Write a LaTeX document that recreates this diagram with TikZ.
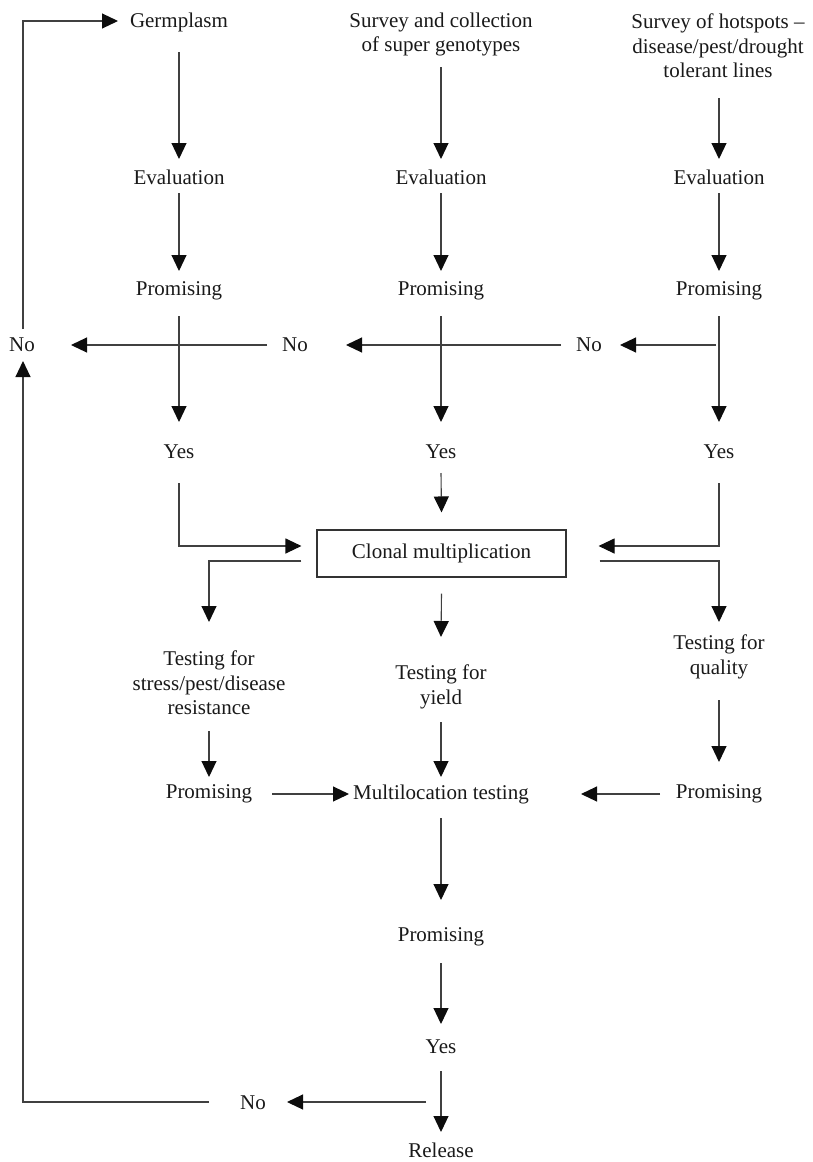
\documentclass[tikz,border=0pt]{standalone}
\usepackage{fontspec}
\setmainfont{Liberation Serif}
\usetikzlibrary{arrows.meta,calc}
\begin{document}
\begin{tikzpicture}[x=1pt,y=-1pt,
  lbl/.style={align=center,font=\fontsize{21}{24.5}\selectfont,text=black!90,inner sep=0pt},
  ln/.style={draw=black!75,line width=1.1pt},
  arr/.style={ln,-{Triangle[length=16pt,width=15pt,color=black!95]}}]
\useasboundingbox (0,0) rectangle (812,1162);
% nodes
\node[lbl] (germ) at (179,22) {Germplasm};
\node[lbl] (surv2) at (441,34.5) {Survey and collection\\of super genotypes};
\node[lbl] (surv3) at (718,46) {Survey of hotspots –\\disease/pest/drought\\tolerant lines};
\node[lbl] (ev1) at (179,177) {Evaluation};
\node[lbl] (ev2) at (441,177) {Evaluation};
\node[lbl] (ev3) at (719,177) {Evaluation};
\node[lbl] (pr1) at (179,291) {Promising};
\node[lbl] (pr2) at (441,291) {Promising};
\node[lbl] (pr3) at (719,291) {Promising};
\node[lbl] (no0) at (22,345) {No};
\node[lbl] (no1) at (295,345) {No};
\node[lbl] (no2) at (589,345) {No};
\node[lbl] (yes1) at (179,452) {Yes};
\node[lbl] (yes2) at (441,452) {Yes};
\node[lbl] (yes3) at (719,452) {Yes};
\node[lbl,draw=black!80,line width=1.1pt,minimum width=249pt,minimum height=47pt] (clon) at (441.5,553.5) {Clonal multiplication};
\node[lbl] (t1) at (209,683) {Testing for\\stress/pest/disease\\resistance};
\node[lbl] (t2) at (441,687) {Testing for\\yield};
\node[lbl] (t3) at (719,657) {Testing for\\quality};
\node[lbl] (p1) at (209,794) {Promising};
\node[lbl] (ml) at (441,794) {Multilocation testing};
\node[lbl] (p3) at (719,794) {Promising};
\node[lbl] (pr4) at (441,937) {Promising};
\node[lbl] (yes4) at (441,1047) {Yes};
\node[lbl] (no3) at (253,1103) {No};
\node[lbl] (rel) at (441,1150) {Release};
% connectors
\draw[arr] ($(germ)+(0,30)$) -- ($(ev1)+(0,-18)$);
\draw[arr] ($(surv2)+(0,32.5)$) -- ($(ev2)+(0,-18)$);
\draw[arr] ($(surv3)+(1,52)$) -- ($(ev3)+(0,-18)$);
\foreach \i in {1,2,3}{
  \draw[arr] ($(ev\i)+(0,16)$) -- ($(pr\i)+(0,-20)$);
  \draw[arr] ($(pr\i)+(0,25)$) -- ($(yes\i)+(0,-30)$);
}
\draw[arr] ($(pr3)+(-3,54)$) -- ($(no2)+(31,0)$);
\draw[arr] ($(no2)+(-28,0)$) -- ($(no1)+(51,0)$);
\draw[arr] ($(no1)+(-28,0)$) -- ($(no0)+(49,0)$);
\draw[arr] ($(no0)+(1,-16)$) |- ($(germ)+(-61,-1)$);
\draw[arr] ($(no3)+(-44,-1)$) -| ($(no0)+(1,16)$);
\draw[arr] ($(yes4)+(-15,55)$) -- ($(no3)+(34,-1)$);
\draw[arr] ($(yes1)+(0,31)$) |- ($(clon.west)+(-15,-7.5)$);
\draw[arr] ($(yes2)+(0,21)$) -- ($(clon.north)+(0,-17)$);
\draw[arr] ($(yes3)+(0,31)$) |- ($(clon.east)+(32,-7.5)$);
\draw[arr] ($(clon.west)+(-15,7.5)$) -| ($(t1)+(0,-61)$);
\draw[arr] ($(clon.south)+(0,16)$) -- ($(t2)+(0,-50)$);
\draw[arr] ($(clon.east)+(33,7.5)$) -| ($(t3)+(0,-35)$);
\draw[arr] ($(t1)+(0,48)$) -- ($(p1)+(0,-17)$);
\draw[arr] ($(t2)+(0,35)$) -- ($(ml)+(0,-17)$);
\draw[arr] ($(t3)+(0,43)$) -- ($(p3)+(0,-32)$);
\draw[arr] ($(p1)+(63,0)$) -- ($(ml)+(-92,0)$);
\draw[arr] ($(p3)+(-59,0)$) -- ($(ml)+(140,0)$);
\draw[arr] ($(ml)+(0,24)$) -- ($(pr4)+(0,-37)$);
\draw[arr] ($(pr4)+(0,26)$) -- ($(yes4)+(0,-23)$);
\draw[arr] ($(yes4)+(0,24)$) -- ($(rel)+(0,-18)$);
\end{tikzpicture}
\end{document}
